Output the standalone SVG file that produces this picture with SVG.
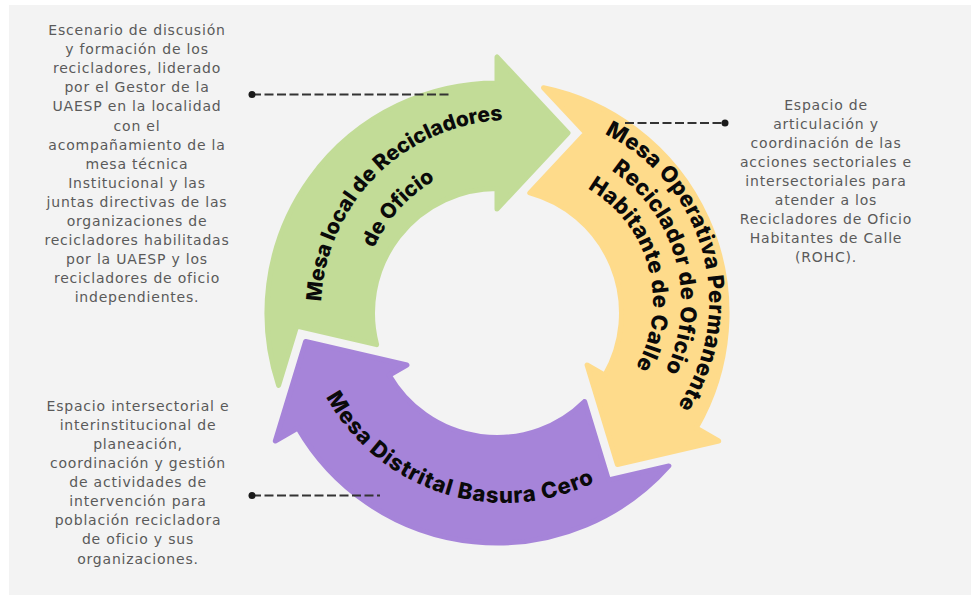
<svg xmlns="http://www.w3.org/2000/svg" width="971" height="595" viewBox="0 0 971 595">
  <defs>
    <style>
      .desc { font-family: "DejaVu Sans", "Liberation Sans", sans-serif; font-size: 14px; letter-spacing: 0.8px; fill: #5a5a5a; text-anchor: middle; }
      .label { font-family: Inter, "DejaVu Sans", sans-serif; font-weight: 800; font-size: 21px; fill: #0a0a0a; }
      .wide { font-size: 22px; letter-spacing: 0.4px; }
      .wider { font-size: 22px; letter-spacing: 0.9px; }
      .arrow { stroke-width: 5; stroke-linejoin: round; }
      .lead { stroke: #333333; stroke-width: 2; stroke-dasharray: 9 3.5; fill: none; }
      .dot { fill: #1a1a1a; }
    </style>
    <!-- one curved arrow of the cycle, head at the top pointing clockwise; tail notched to fit the previous head -->
    <path id="cycleArrow" d="M -218.36 72.38 L -200.28 13.1 L -120.4 31.65 A 124.5 124.5 0 0 1 0 -124.5 L 0 -104 L 71 -180 L 0 -256 L 0 -230 A 230 230 0 0 0 -218.36 72.38 Z"/>
    <!-- text baselines -->
    <path id="pGreen1" d="M 346.5 405 A 190 190 0 0 1 606 145.5"/>
    <path id="pGreen2" d="M 381 385 A 150 150 0 0 1 586 180"/>
    <path id="pYellow1" d="M 522 115 A 187 187 0 0 1 615.5 464"/>
    <path id="pYellow2" d="M 522 143 A 159 159 0 0 1 601.5 439.7"/>
    <path id="pYellow3" d="M 522 171 A 131 131 0 0 1 587.5 415.4"/>
    <path id="pPurple" d="M 301 299 A 204 204 0 0 0 672.1 416"/>
  </defs>

  <rect width="971" height="595" fill="#ffffff"/>
  <rect x="9" y="5" width="962" height="590" fill="#f3f3f3"/>

  <!-- Mesa local -->
  <g id="node-mesa-local">
    <use href="#cycleArrow" class="arrow" fill="#c2dc97" stroke="#c2dc97" transform="translate(497 313)"/>
    <text class="label"><textPath href="#pGreen1" startOffset="50%" text-anchor="middle">Mesa local de Recicladores</textPath></text>
    <text class="label"><textPath href="#pGreen2" startOffset="48%" text-anchor="middle">de Oficio</textPath></text>
  </g>

  <!-- Mesa operativa -->
  <g id="node-mesa-operativa">
    <use href="#cycleArrow" class="arrow" fill="#fedb8b" stroke="#fedb8b" transform="translate(497 313) rotate(120)"/>
    <text class="label wide"><textPath href="#pYellow1" startOffset="50%" text-anchor="middle">Mesa Operativa Permanente</textPath></text>
    <text class="label wide"><textPath href="#pYellow2" startOffset="50%" text-anchor="middle">Reciclador de Oficio</textPath></text>
    <text class="label wide"><textPath href="#pYellow3" startOffset="50%" text-anchor="middle">Habitante de Calle</textPath></text>
  </g>

  <!-- Mesa distrital -->
  <g id="node-mesa-distrital">
    <use href="#cycleArrow" class="arrow" fill="#a684d9" stroke="#a684d9" transform="translate(497 313) rotate(240)"/>
    <text class="label wider"><textPath href="#pPurple" startOffset="50%" text-anchor="middle">Mesa Distrital Basura Cero</textPath></text>
  </g>

  <!-- descriptions -->
  <g id="desc-local">
    <text class="desc" x="137" y="35">Escenario de discusión</text>
    <text class="desc" x="137" y="54.1">y formación de los</text>
    <text class="desc" x="137" y="73.2">recicladores, liderado</text>
    <text class="desc" x="137" y="92.3">por el Gestor de la</text>
    <text class="desc" x="137" y="111.4">UAESP en la localidad</text>
    <text class="desc" x="137" y="130.5">con el</text>
    <text class="desc" x="137" y="149.6">acompañamiento de la</text>
    <text class="desc" x="137" y="168.7">mesa técnica</text>
    <text class="desc" x="137" y="187.8">Institucional y las</text>
    <text class="desc" x="137" y="206.9">juntas directivas de las</text>
    <text class="desc" x="137" y="226">organizaciones de</text>
    <text class="desc" x="137" y="245.1">recicladores habilitadas</text>
    <text class="desc" x="137" y="264.2">por la UAESP y los</text>
    <text class="desc" x="137" y="283.3">recicladores de oficio</text>
    <text class="desc" x="137" y="302.4">independientes.</text>
  </g>

  <g id="desc-operativa">
    <text class="desc" x="826" y="109.5">Espacio de</text>
    <text class="desc" x="826" y="128.6">articulación y</text>
    <text class="desc" x="826" y="147.7">coordinación de las</text>
    <text class="desc" x="826" y="166.8">acciones sectoriales e</text>
    <text class="desc" x="826" y="185.9">intersectoriales para</text>
    <text class="desc" x="826" y="205">atender a los</text>
    <text class="desc" x="826" y="224.1">Recicladores de Oficio</text>
    <text class="desc" x="826" y="243.2">Habitantes de Calle</text>
    <text class="desc" x="826" y="262.3">(ROHC).</text>
  </g>

  <g id="desc-distrital">
    <text class="desc" x="138" y="410.7">Espacio intersectorial e</text>
    <text class="desc" x="138" y="429.8">interinstitucional de</text>
    <text class="desc" x="138" y="448.9">planeación,</text>
    <text class="desc" x="138" y="468">coordinación y gestión</text>
    <text class="desc" x="138" y="487.1">de actividades de</text>
    <text class="desc" x="138" y="506.2">intervención para</text>
    <text class="desc" x="138" y="525.3">población recicladora</text>
    <text class="desc" x="138" y="544.4">de oficio y sus</text>
    <text class="desc" x="138" y="563.5">organizaciones.</text>
  </g>

  <!-- leader lines -->
  <g id="connectors">
    <line class="lead" x1="252" y1="94.5" x2="452" y2="94.5"/>
    <circle class="dot" cx="252" cy="94.5" r="3.5"/>
    <line class="lead" x1="625" y1="123" x2="725" y2="123"/>
    <circle class="dot" cx="725" cy="123" r="3.5"/>
    <line class="lead" x1="252" y1="495.5" x2="380" y2="495.5"/>
    <circle class="dot" cx="252" cy="495.5" r="3.5"/>
  </g>
</svg>
